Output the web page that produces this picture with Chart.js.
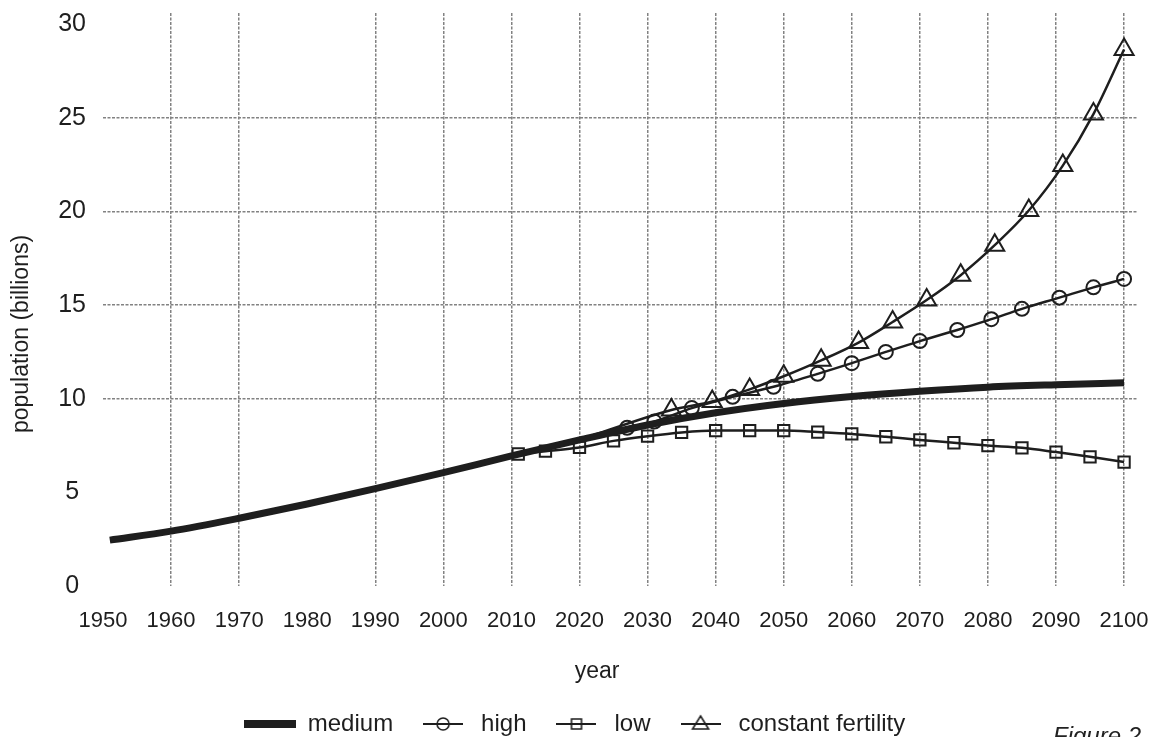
<!DOCTYPE html>
<html>
<head>
<meta charset="utf-8">
<title>World population projections</title>
<script src="https://cdn.jsdelivr.net/npm/chart.js@4.4.1/dist/chart.umd.min.js"></script>
<style>
    html, body { margin: 0; padding: 0; background: #fff; overflow: hidden; }
    #wrap { position: relative; width: 1161px; height: 737px; overflow: hidden; }
    #popChart { display: block; }
    #figNote {
        position: absolute; left: 1053px; top: 724px;
        font: italic 24px/24px 'Liberation Sans', Arial, sans-serif;
        color: #222; white-space: nowrap;
    }
</style>
</head>
<body>
<div id="wrap">
    <canvas id="popChart" width="1161" height="746"></canvas>
    <div id="figNote">Figure 2</div>
</div>
<script>
// values (population in billions)
const mediumYears = [1951, 1960, 1970, 1980, 1990, 2000, 2010, 2020, 2030, 2040, 2050, 2060, 2070, 2080, 2090, 2100];
const mediumValues = [2.45, 2.93, 3.62, 4.38, 5.2, 6.05, 6.95, 7.8, 8.6, 9.25, 9.75, 10.12, 10.4, 10.62, 10.75, 10.85];

const highYears = [2020, 2027, 2031, 2036.5, 2042.5, 2048.5, 2055, 2060, 2065, 2070, 2075.5, 2080.5, 2085, 2090.5, 2095.5, 2100];
const highValues = [7.8, 8.45, 8.78, 9.5, 10.1, 10.64, 11.33, 11.9, 12.5, 13.08, 13.67, 14.25, 14.8, 15.4, 15.95, 16.4];

const lowYears = [2011, 2015, 2020, 2025, 2030, 2035, 2040, 2045, 2050, 2055, 2060, 2065, 2070, 2075, 2080, 2085, 2090, 2095, 2100];
const lowValues = [7.05, 7.2, 7.4, 7.75, 8.0, 8.2, 8.3, 8.3, 8.3, 8.22, 8.12, 7.97, 7.8, 7.65, 7.5, 7.38, 7.15, 6.9, 6.62];

const constYears = [2020, 2033.5, 2039.5, 2045, 2050, 2055.5, 2061, 2066, 2071, 2076, 2081, 2086, 2091, 2095.5, 2100];
const constValues = [7.8, 9.4, 9.85, 10.5, 11.2, 12.05, 13.0, 14.1, 15.27, 16.6, 18.2, 20.05, 22.45, 25.2, 28.65];

const seriesNames = ['medium', 'high', 'low', 'constant fertility'];
const xTicks = [1950, 1960, 1970, 1980, 1990, 2000, 2010, 2020, 2030, 2040, 2050, 2060, 2070, 2080, 2090, 2100];
const yTicks = [0, 5, 10, 15, 20, 25, 30];
const xGridSkip = [1950, 1980];      // the original has no vertical line there
const yGridShown = [10, 15, 20, 25];

const INK = '#1e1e1e';
const GRID = '#828282';
const NONE = 'rgba(0,0,0,0)';

function toPoints(years, values) {
    return years.map((year, i) => ({ x: year, y: values[i] }));
}

// small canvases used as legend symbols (line with marker through it)
function legendIcon(kind) {
    const c = document.createElement('canvas');
    const g = c.getContext('2d');
    if (kind === 'medium') {
        c.width = 52; c.height = 8;
        g.fillStyle = INK;
        g.fillRect(0, 0, 52, 8);
        return c;
    }
    c.width = 40; c.height = 20;
    g.strokeStyle = INK;
    g.lineWidth = 2;
    g.beginPath();
    g.moveTo(0, 10); g.lineTo(40, 10);
    g.stroke();
    g.lineWidth = 1.6;
    g.beginPath();
    if (kind === 'high') {
        g.arc(20, 10, 6, 0, Math.PI * 2);
    } else if (kind === 'low') {
        g.rect(15, 5, 10, 10);
    } else {
        g.moveTo(20, 2); g.lineTo(28, 15); g.lineTo(12, 15); g.closePath();
    }
    g.stroke();
    return c;
}

document.addEventListener('DOMContentLoaded', function () {
    Chart.defaults.font.family = "'Liberation Sans', Arial, Helvetica, sans-serif";
    Chart.defaults.color = INK;

    const icons = [legendIcon('medium'), legendIcon('high'), legendIcon('low'), legendIcon('const')];
    // the first point of high / constant only starts the line, no marker
    const skipFirst = r => ctx => ctx.dataIndex === 0 ? 0 : r;

    const ctx = document.getElementById('popChart').getContext('2d');
    new Chart(ctx, {
        type: 'line',
        data: {
            datasets: [{
                label: seriesNames[0],
                data: toPoints(mediumYears, mediumValues),
                borderColor: INK,
                borderWidth: 7,
                pointRadius: 0,
                cubicInterpolationMode: 'monotone'
            }, {
                label: seriesNames[1],
                data: toPoints(highYears, highValues),
                borderColor: INK,
                borderWidth: 2.5,
                pointStyle: 'circle',
                pointRadius: skipFirst(7),
                pointBorderWidth: 2,
                pointBorderColor: INK,
                pointBackgroundColor: NONE,
                cubicInterpolationMode: 'monotone'
            }, {
                label: seriesNames[2],
                data: toPoints(lowYears, lowValues),
                borderColor: INK,
                borderWidth: 2.5,
                pointStyle: 'rect',
                pointRadius: 8,
                pointBorderWidth: 2,
                pointBorderColor: INK,
                pointBackgroundColor: NONE,
                cubicInterpolationMode: 'monotone'
            }, {
                label: seriesNames[3],
                data: toPoints(constYears, constValues),
                borderColor: INK,
                borderWidth: 2.5,
                pointStyle: 'triangle',
                pointRadius: skipFirst(11),
                pointBorderWidth: 2,
                pointBorderColor: INK,
                pointBackgroundColor: NONE,
                cubicInterpolationMode: 'monotone'
            }]
        },
        options: {
            responsive: false,
            animation: false,
            devicePixelRatio: 1,
            layout: { padding: { top: 12, left: 12, right: 24, bottom: 0 } },
            plugins: {
                tooltip: { enabled: false },
                legend: {
                    position: 'bottom',
                    labels: {
                        font: { size: 24 },
                        color: INK,
                        padding: 24,
                        usePointStyle: true,
                        pointStyleWidth: 52,
                        generateLabels: chart => chart.data.datasets.map((ds, i) => ({
                            text: ds.label,
                            pointStyle: icons[i],
                            datasetIndex: i,
                            fontColor: INK,
                            fillStyle: NONE,
                            strokeStyle: NONE,
                            lineWidth: 0,
                            hidden: false
                        }))
                    }
                }
            },
            scales: {
                x: {
                    type: 'linear',
                    min: 1950,
                    max: 2101.9,
                    afterBuildTicks: scale => { scale.ticks = xTicks.map(v => ({ value: v })); },
                    afterFit: scale => {
                        scale.height = 102;
                        scale.paddingLeft = 0;
                        scale.paddingRight = 0;
                    },
                    ticks: {
                        font: { size: 22 },
                        color: INK,
                        padding: 22,
                        maxRotation: 0,
                        autoSkip: false,
                        callback: v => String(v)
                    },
                    grid: {
                        color: c => (c.tick && !xGridSkip.includes(c.tick.value)) ? GRID : NONE,
                        lineWidth: 1.5,
                        drawTicks: false
                    },
                    border: { display: false, dash: [3, 1.5] },
                    title: {
                        display: true,
                        text: 'year\u2003\u2003',
                        font: { size: 23 },
                        color: INK,
                        padding: { top: 0, bottom: 3 }
                    }
                },
                y: {
                    min: 0,
                    max: 30.6,
                    afterBuildTicks: scale => { scale.ticks = yTicks.map(v => ({ value: v })); },
                    afterFit: scale => {
                        scale.width = 91;
                        scale.paddingTop = 0;
                        scale.paddingBottom = 0;
                    },
                    ticks: {
                        font: { size: 25 },
                        color: INK,
                        padding: 17,
                        crossAlign: 'center',
                        callback: v => String(v)
                    },
                    grid: {
                        color: c => (c.tick && yGridShown.includes(c.tick.value)) ? GRID : NONE,
                        lineWidth: 1.5,
                        drawTicks: false
                    },
                    border: { display: false, dash: [3, 1.5] },
                    title: {
                        display: true,
                        text: 'population (billions)\u2003\u2003\u2003',
                        font: { size: 23 },
                        color: INK,
                        padding: { top: -4, bottom: 0 }
                    }
                }
            }
        }
    });
});
</script>
</body>
</html>
